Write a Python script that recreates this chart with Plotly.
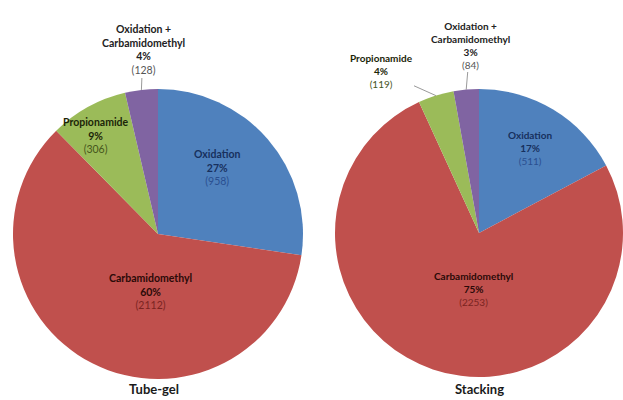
import math
import plotly.graph_objects as go

categories = ["Oxidation", "Carbamidomethyl", "Propionamide", "Oxidation +<br>Carbamidomethyl"]
tube_gel_counts = [958, 2112, 306, 128]
tube_gel_pct = ["27%", "60%", "9%", "4%"]
stacking_counts = [511, 2253, 119, 84]
stacking_pct = ["17%", "75%", "4%", "3%"]
chart_titles = ["Tube-gel", "Stacking"]

colors = ["#4F81BD", "#C0504D", "#9BBB59", "#8064A2"]
label_colors = ["#17305E", "#2A0A08", "#1B2508", "#222222"]
count_colors = ["#2A4F90", "#7A2421", "#46561C", "#555555"]

W, H = 623, 400
FONT = "Lato"

# pie geometry (pixels) : centre x, centre y, radius
pies = [
    dict(cx=158, cy=234, r=145, fs=10.5),
    dict(cx=479, cy=233, r=144, fs=10),
]
# label placement (pixel centres) per slice
label_pos = [
    [(217, 168), (150, 291), (96, 135), (143, 50)],
    [(530, 148), (473, 289), (381, 71), (470, 45)],
]
outside = [
    [False, False, False, True],
    [False, False, True, True],
]
series = [(tube_gel_counts, tube_gel_pct), (stacking_counts, stacking_pct)]

fig = go.Figure()
for k, (counts, pct) in enumerate(series):
    p = pies[k]
    fig.add_trace(go.Pie(
        labels=categories, values=counts,
        textinfo="none", sort=False, direction="clockwise", rotation=0,
        marker=dict(colors=colors, line=dict(width=0)),
        domain=dict(x=[(p["cx"] - p["r"]) / W, min(1.0, (p["cx"] + p["r"]) / W)],
                    y=[1 - (p["cy"] + p["r"]) / H, 1 - (p["cy"] - p["r"]) / H]),
        showlegend=False, hoverinfo="label+value+percent",
    ))
    total = sum(counts)
    cum = 0
    for i, c in enumerate(counts):
        mid = (cum + c / 2) / total * 2 * math.pi
        cum += c
        txt = (f"<span style='color:{label_colors[i]}'><b>{categories[i]}<br>{pct[i]}</b></span>"
               f"<br><span style='color:{count_colors[i]}'>({c})</span>")
        tx, ty = label_pos[k][i]
        if outside[k][i]:
            ex = p["cx"] + p["r"] * math.sin(mid)
            ey = p["cy"] - p["r"] * math.cos(mid)
            fig.add_annotation(
                text=txt, x=ex / W, y=1 - ey / H, xref="paper", yref="paper",
                showarrow=True, arrowhead=0, arrowwidth=0.8, arrowcolor="#7F7F7F",
                ax=tx - ex, ay=ty - ey, align="center",
                xanchor="center", yanchor="middle",
                font=dict(size=p["fs"], family=FONT),
            )
        else:
            fig.add_annotation(
                text=txt, x=tx / W, y=1 - ty / H, xref="paper", yref="paper",
                showarrow=False, align="center",
                xanchor="center", yanchor="middle",
                font=dict(size=p["fs"], family=FONT),
            )

for i, t in enumerate(chart_titles):
    fig.add_annotation(
        text=f"<b>{t}</b>", x=[154 / W, 479 / W][i], y=1 - 389 / H,
        xref="paper", yref="paper", showarrow=False,
        xanchor="center", yanchor="middle",
        font=dict(size=13, color="#1A1A1A", family=FONT),
    )

fig.update_layout(
    width=W, height=H,
    margin=dict(l=0, r=0, t=0, b=0),
    paper_bgcolor="white",
    font=dict(family=FONT, size=10, color="#222222"),
)

fig.write_html("out.html", config={"displayModeBar": False},
               post_script="document.body.style.margin='0';")
